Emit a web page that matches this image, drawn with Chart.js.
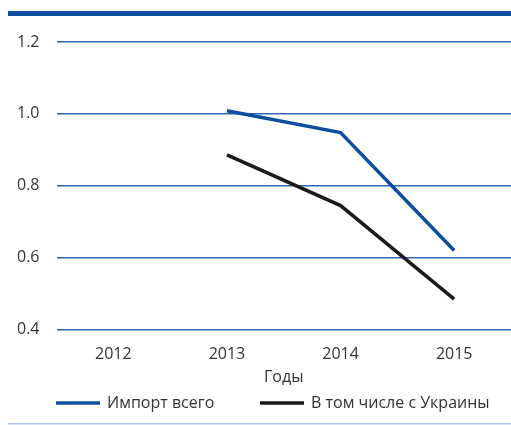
<!DOCTYPE html>
<html>
<head>
<meta charset="utf-8">
<script src="https://cdn.jsdelivr.net/npm/chart.js@4"></script>
<style>
  html, body { margin: 0; padding: 0; background: #fff; }
  #wrap { width: 511px; height: 425px; position: relative; }
</style>
</head>
<body>
<div id="wrap"><canvas id="chart"></canvas></div>
<script>
const years = ['2012', '2013', '2014', '2015'];
const importTotal = [null, 1.009, 0.948, 0.62];
const importUkraine = [null, 0.886, 0.745, 0.485];
const seriesNames = ['Импорт всего', 'В том числе с Украины'];
const xTitle = 'Годы';

const FONT = "'Open Sans', 'Noto Sans', sans-serif";
const TEXT = '#333333';

// top band, bottom rule and the line legend
const decor = {
    id: 'decor',
    beforeDraw(chart) {
        const ctx = chart.ctx;
        ctx.save();
        ctx.fillStyle = '#0b4f9e';
        ctx.fillRect(8, 11, chart.width - 8, 5);
        ctx.fillStyle = '#a9c4e8';
        ctx.fillRect(8, 423, chart.width - 8, 1.5);
        ctx.restore();
    },
    afterDraw(chart) {
        const ctx = chart.ctx;
        const y = 403;
        const starts = [56, 260];
        ctx.save();
        ctx.font = '16px ' + FONT;
        ctx.textBaseline = 'middle';
        chart.data.datasets.forEach((ds, i) => {
            const x = starts[i];
            ctx.strokeStyle = ds.borderColor;
            ctx.lineWidth = 3.5;
            ctx.beginPath();
            ctx.moveTo(x, y);
            ctx.lineTo(x + 44, y);
            ctx.stroke();
            ctx.fillStyle = TEXT;
            ctx.fillText(ds.label, x + 51, y);
        });
        ctx.restore();
    }
};

new Chart(document.getElementById('chart'), {
    type: 'line',
    data: {
        labels: years,
        datasets: [
            {
                label: seriesNames[0],
                data: importTotal,
                borderColor: '#0b4f9e',
                borderWidth: 3.5,
                pointRadius: 0,
                tension: 0
            },
            {
                label: seriesNames[1],
                data: importUkraine,
                borderColor: '#1a1a1a',
                borderWidth: 3.5,
                pointRadius: 0,
                tension: 0
            }
        ]
    },
    options: {
        responsive: true,
        maintainAspectRatio: false,
        animation: false,
        layout: {
            padding: { top: 42, bottom: 38, left: 0, right: 0 }
        },
        plugins: {
            legend: { display: false },
            tooltip: { enabled: false }
        },
        scales: {
            x: {
                offset: true,
                grid: { display: false },
                border: { display: false },
                ticks: {
                    color: TEXT,
                    padding: 7,
                    maxRotation: 0,
                    font: { family: FONT, size: 16 }
                },
                title: {
                    display: true,
                    text: xTitle,
                    color: TEXT,
                    padding: { top: -3, bottom: 0 },
                    font: { family: FONT, size: 16 }
                }
            },
            y: {
                min: 0.4,
                max: 1.2,
                border: { display: false },
                grid: {
                    color: '#2f69b8',
                    lineWidth: 1.5,
                    drawTicks: false
                },
                ticks: {
                    stepSize: 0.2,
                    color: TEXT,
                    padding: 17,
                    font: { family: FONT, size: 16 },
                    callback: v => v.toFixed(1)
                }
            }
        }
    },
    plugins: [decor]
});
</script>
</body>
</html>
